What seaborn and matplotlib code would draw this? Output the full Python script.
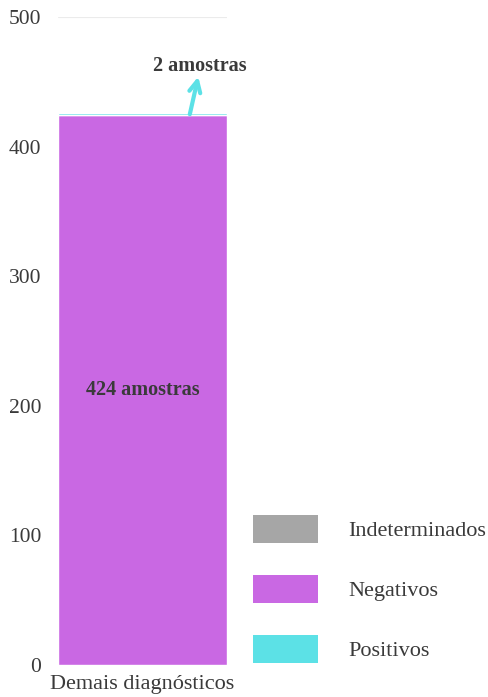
import matplotlib
matplotlib.use("Agg")
import matplotlib.pyplot as plt
import seaborn as sns
from matplotlib.patches import Patch

# data
categories = ["Demais diagnósticos"]
negativos = [424]
positivos = [2]
indeterminados = [0]
legend_labels = ["Indeterminados", "Negativos", "Positivos"]
colors = {"Indeterminados": "#A6A6A6", "Negativos": "#C968E3", "Positivos": "#5CE1E6"}
text_color = "#3a3a3a"

sns.set_theme(style="white")
plt.rcParams["font.family"] = ["Liberation Serif", "DejaVu Serif"]

fig = plt.figure(figsize=(4.89, 6.97), dpi=100)
ax = fig.add_axes([58 / 489, 1 - 665 / 697, 169 / 489, 648 / 697])

sns.barplot(x=categories, y=negativos, color=colors["Negativos"], width=1.0,
            saturation=1, ax=ax, zorder=2)
sns.barplot(x=categories, y=positivos, bottom=negativos, color=colors["Positivos"],
            width=1.0, saturation=1, ax=ax, zorder=2)

ax.set_xlim(-0.5, 0.5)
ax.set_ylim(0, 500)
ax.set_yticks([0, 100, 200, 300, 400, 500])
ax.yaxis.grid(True, color="#ebebeb", linewidth=0.8, zorder=0)
ax.set_axisbelow(True)
for s in ax.spines.values():
    s.set_visible(False)
ax.tick_params(axis="both", length=0, labelsize=16, colors=text_color)
ax.tick_params(axis="y", labelsize=15.5, pad=12)
ax.tick_params(axis="x", pad=7)
ax.set_xlabel("")
ax.set_ylabel("")

# labels
ax.text(0, negativos[0] / 2, f"{negativos[0]} amostras", ha="center", va="center",
        fontsize=14.5, fontweight="bold", color=text_color)
total = negativos[0] + positivos[0]
ax.annotate("", xy=(0.33, total + 28), xytext=(0.28, total - 1),
            arrowprops=dict(arrowstyle="->", color=colors["Positivos"], lw=3,
                            shrinkA=0, shrinkB=0, mutation_scale=20))
ax.text(0.34, total + 36, f"{positivos[0]} amostras", ha="center", va="center",
        fontsize=14.5, fontweight="bold", color=text_color)

handles = [Patch(facecolor=colors[l], edgecolor="none", label=l) for l in legend_labels]
fig.legend(handles=handles, loc="upper left", bbox_to_anchor=(233 / 489, 1 - 495 / 697),
           frameon=False, fontsize=16, handlelength=2.93, handleheight=1.56,
           labelspacing=1.44, handletextpad=1.35, labelcolor=text_color)

fig.savefig("out.png", dpi=100)
